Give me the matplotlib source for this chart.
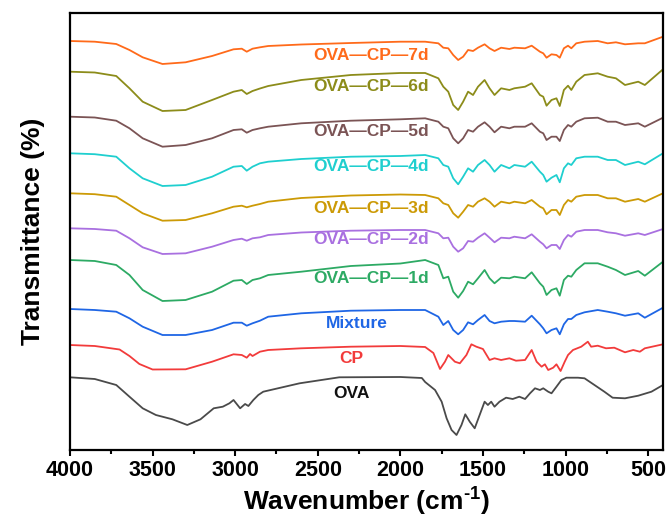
import matplotlib
matplotlib.use('Agg')
import matplotlib.pyplot as plt
from matplotlib.ticker import MultipleLocator

plt.rcParams['font.family'] = ['Liberation Sans', 'DejaVu Sans']
plt.rcParams['font.weight'] = 'bold'
plt.rcParams['mathtext.fontset'] = 'custom'
plt.rcParams['mathtext.bf'] = 'Liberation Sans:bold'
plt.rcParams['mathtext.rm'] = 'Liberation Sans:bold'
plt.rcParams['mathtext.default'] = 'bf'

# 红外光谱数据 (波数 cm-1, 透过率 任意单位, 已按曲线上下错开)
wn_mix = [4000, 3850, 3720, 3640, 3560, 3440, 3300, 3140, 3010, 2960, 2930, 2895, 2850, 2800, 2600, 2300, 2000,
          1850, 1770, 1740, 1710, 1680, 1650, 1620, 1590, 1560, 1530, 1490, 1460, 1430, 1390, 1340, 1310,
          1245, 1205, 1155, 1135, 1115, 1085, 1055, 1035, 1010, 985, 965, 935, 885, 805, 745, 695, 640, 560, 520, 410]

t_7d = [409, 408.3, 406, 400, 392.7, 386, 387.7, 394, 400.7, 401.3, 398.3, 401.3, 402.7, 404, 405.5, 407, 408.3,
        408.3, 406.7, 402.3, 401.7, 395, 390, 393.3, 400, 399, 402.3, 405.7, 401.7, 399, 402.3, 401, 402.3,
        401.7, 404.3, 398.3, 396.7, 392.3, 395.7, 395, 392.3, 401.7, 404.3, 401.7, 406.7, 408.3, 409, 406.7, 407.7,
        405.7, 406.7, 406.7, 413.3]
t_6d = [378.3, 377.5, 374, 361.7, 348.3, 339, 340, 350, 358.3, 360, 356, 359, 361.5, 364, 370, 375, 377,
        377, 371.7, 363.3, 358.3, 345, 340, 348.3, 358.3, 355, 363.3, 370, 361.7, 355, 361.7, 360, 361.7,
        363.3, 366.7, 355, 353.3, 344.3, 350, 351.7, 344, 360, 364.3, 360, 368.3, 375, 376.7, 373.3, 371.7,
        365, 368.3, 365, 380.7]
t_5d = [333.3, 332.5, 329.3, 321.7, 311.7, 303.3, 305, 311.7, 320, 320.7, 317.3, 320, 321.7, 323.3, 326.7, 329.3, 330.7,
        331.7, 328.3, 323.3, 321.7, 311.7, 306.7, 311.7, 320, 318.3, 323.3, 327.7, 323.3, 317.7, 323.3, 321.7, 323.3,
        323.3, 326.7, 318.3, 316.7, 310, 313.3, 313.3, 309, 320, 325, 323.3, 328.3, 331.7, 332.3, 328.3, 328.3,
        325, 326.7, 323.3, 332.3]
t_4d = [296.7, 295.8, 293.3, 281.7, 271.7, 264, 265, 273.3, 283.3, 284, 279.3, 283.3, 286.7, 288.3, 291, 293.3, 294,
        295, 291.7, 285, 283.3, 271.7, 265.7, 273.3, 281.7, 278.3, 285, 290, 285, 278.3, 285, 281.7, 285,
        283.3, 288.3, 278.3, 275, 268.3, 272.3, 275, 267.7, 281.7, 286.7, 285, 291.7, 293.3, 293.3, 290, 290,
        285, 288.3, 285.7, 296.7]
t_3d = [256.7, 255.8, 253.3, 245, 236.7, 229.3, 230, 236.7, 243.3, 244.3, 242.7, 244.3, 246, 248.3, 252, 254.5, 255.5,
        255, 251.7, 246.7, 245, 236.7, 232.3, 238.3, 245, 243.3, 248.3, 251.7, 248.3, 243.3, 248.3, 246.7, 248.3,
        246.7, 250, 243.3, 241.7, 235.7, 240, 240, 235, 245, 250, 248.3, 253.3, 255, 255, 251.7, 251.7,
        248.3, 251, 248.3, 256.7]
t_2d = [221.7, 221, 219.3, 211.7, 202.7, 196, 196.7, 203.3, 210, 211.3, 209.3, 211.7, 212.7, 215, 217.5, 219.3, 220,
        220, 216.7, 211.7, 212.3, 203.3, 198.3, 201.7, 209, 208.3, 212.3, 216.7, 212.3, 207.7, 212.3, 211.7, 213.3,
        211.7, 215.7, 208.3, 205.7, 201.7, 205, 205, 201, 210, 215, 213.3, 218.3, 220, 220, 217.7, 216.7,
        214.3, 216.7, 215, 221]
t_1d = [190, 189, 185, 175, 160, 149, 150, 158.3, 169.3, 170, 166, 170, 171.7, 175, 178.3, 184, 186.5,
        190, 185, 171.7, 173.3, 158.3, 152.3, 159, 168.3, 165.7, 171.7, 180, 171.7, 166.7, 172.3, 171.7, 173.3,
        171.7, 177.7, 166.7, 163.3, 155, 160, 161.7, 154.3, 170, 174.3, 173.3, 180, 186.7, 186.7, 183.3, 180,
        175, 179, 174.3, 188.3]
t_mixture = [141, 140, 138.3, 131.7, 123.3, 115, 115, 120, 127.3, 127.3, 124.3, 126.7, 129.3, 133.3, 136.7, 139.3, 140,
             140, 133.3, 125, 129, 120, 115.7, 120, 127.7, 125.7, 130, 135, 129, 126.7, 128.3, 129, 129,
             128.3, 134.3, 125.7, 121.7, 116.7, 120, 121.7, 115.7, 125.7, 131, 131, 135, 137.7, 140, 138.3, 136.7,
             134.3, 136.7, 132.3, 142.3]

wn_cp = [4000, 3850, 3700, 3640, 3580, 3500, 3300, 3140, 3010, 2960, 2930, 2910, 2895, 2850, 2800, 2600, 2300, 2000,
         1850, 1800, 1760, 1730, 1710, 1670, 1640, 1600, 1570, 1540, 1500, 1460, 1430, 1390, 1340, 1300, 1245,
         1205, 1175, 1145, 1125, 1105, 1075, 1055, 1030, 1005, 985, 955, 905, 865, 845, 805, 755, 705, 640, 590,
         550, 520, 410]
t_cp = [105, 104, 100.5, 94, 86, 80.5, 80.7, 88.3, 95.7, 95, 92.3, 96, 94, 98.3, 100, 101.7, 103.3, 104,
        103, 97, 81, 88.3, 95, 88.3, 86.7, 95, 105.7, 103.3, 101, 90, 91.7, 90, 91.7, 89.3, 90,
        100, 88.3, 83.3, 85.7, 80, 82.3, 85.7, 79, 88.3, 95, 100, 103.3, 108.3, 103.3, 104.3, 101.7, 102.3, 97.7, 100,
        98.3, 101.7, 105.7]

wn_ova = [4000, 3850, 3720, 3640, 3560, 3480, 3380, 3290, 3210, 3130, 3075, 3035, 3010, 2970, 2940, 2920, 2890, 2860,
          2830, 2610, 2370, 2000, 1870, 1850, 1790, 1750, 1720, 1690, 1660, 1630, 1607, 1580, 1550, 1520, 1490,
          1470, 1450, 1430, 1400, 1360, 1320, 1280, 1245, 1215, 1185, 1155, 1135, 1105, 1085, 1055, 1025, 995,
          965, 925, 885, 825, 765, 715, 640, 560, 480, 410]
t_ova = [72.7, 71, 65, 53.3, 41.7, 35, 30.7, 25, 30.7, 41.7, 43.3, 46.7, 50, 41.7, 46, 44, 50, 55,
         58.3, 66.7, 72.7, 73, 72, 68, 60, 48.3, 31.7, 20, 15, 25, 35.7, 28.3, 21.7, 35, 48.3,
         45, 48.3, 43.3, 48.3, 52.3, 51, 53.3, 51, 56.7, 61.7, 60, 61.7, 58.3, 56.7, 63.3, 70, 72.3,
         72.3, 72.3, 71.7, 65, 58.3, 52.3, 51.7, 54.3, 58.3, 65]

names = ['OVA', 'CP', 'Mixture', 'OVA—CP—1d', 'OVA—CP—2d', 'OVA—CP—3d',
         'OVA—CP—4d', 'OVA—CP—5d', 'OVA—CP—6d', 'OVA—CP—7d']
xs = [wn_ova, wn_cp, wn_mix, wn_mix, wn_mix, wn_mix, wn_mix, wn_mix, wn_mix, wn_mix]
ys = [t_ova, t_cp, t_mixture, t_1d, t_2d, t_3d, t_4d, t_5d, t_6d, t_7d]
colors = ['#4a4a4a', '#f23b3b', '#1f66e5', '#2daa64', '#a970e0', '#cc9a06',
          '#1fcfcf', '#7b5455', '#8c8c1a', '#ff6a1a']
text_colors = ['#111111'] + colors[1:]
# 标注位置
label_x = [2295, 2295, 2265, 2180, 2180, 2180, 2180, 2180, 2180, 2180]
label_y = [56.7, 91.7, 126.7, 171.7, 210, 241.7, 283.3, 318.3, 363.3, 395]

fig = plt.figure(figsize=(6.67, 5.32), dpi=100)
ax = fig.add_axes([70 / 667, 1 - 450 / 532, 593 / 667, 437 / 532])

for i in range(len(names)):
    ax.plot(xs[i], ys[i], color=colors[i], lw=1.3)
    ax.text(label_x[i], label_y[i], names[i], color=text_colors[i], fontsize=12.5,
            fontweight='bold', ha='center', va='center')

ax.set_xlim(4000, 410)
ax.set_ylim(0, 437)
ax.xaxis.set_major_locator(MultipleLocator(500))
ax.xaxis.set_minor_locator(MultipleLocator(250))
ax.set_yticks([])
ax.tick_params(axis='x', which='major', direction='out', length=4.5, width=1.5,
               labelsize=15.5, pad=3)
ax.tick_params(axis='x', which='minor', direction='out', length=3, width=1.5)
for s in ax.spines.values():
    s.set_linewidth(1.6)

ax.set_xlabel(r'Wavenumber (cm$^{\text{-1}}$)', fontsize=19, fontweight='bold', labelpad=3)
ax.set_ylabel('Transmittance (%)', fontsize=19, fontweight='bold', labelpad=18)

fig.savefig('out.png', dpi=100)
